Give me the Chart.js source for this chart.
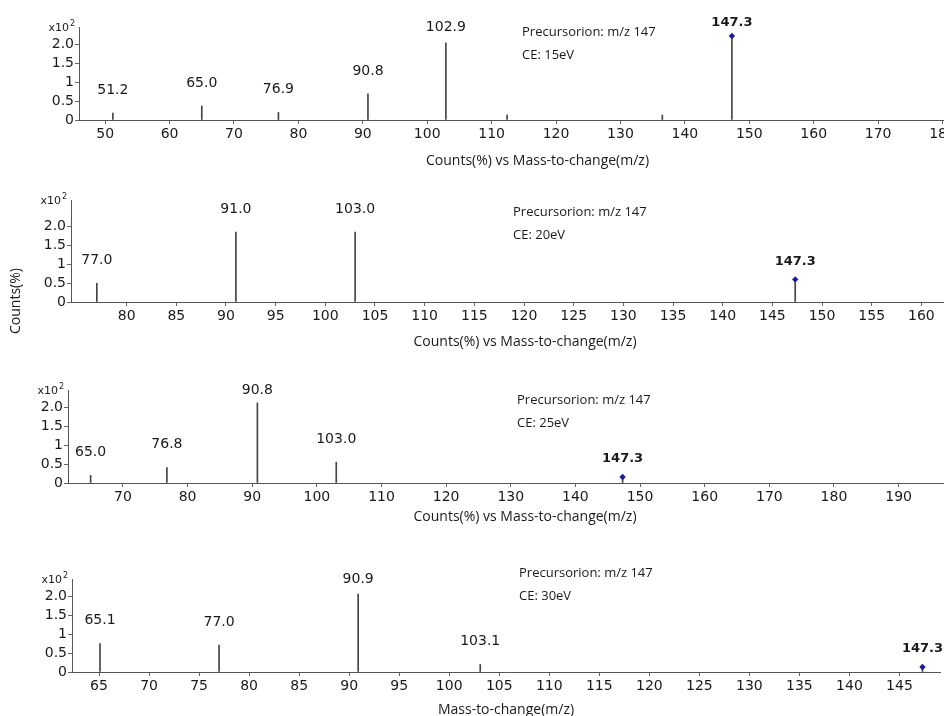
<!DOCTYPE html>
<html>
<head>
<meta charset="utf-8">
<script src="https://cdn.jsdelivr.net/npm/chart.js@4.4.1/dist/chart.umd.min.js"></script>
<style>
  html, body { margin: 0; padding: 0; background: #fff; overflow: hidden; }
  body { width: 944px; height: 716px; position: relative; }
  canvas { position: absolute; left: 0; }
</style>
</head>
<body>
<canvas id="ce15"></canvas>
<canvas id="ce20"></canvas>
<canvas id="ce25"></canvas>
<canvas id="ce30"></canvas>
<script>
// product ion peaks, intensity in x10^2 counts(%)
const ce15Mz = [51.2, 65.0, 76.9, 90.8, 102.9, 112.4, 136.5, 147.3]
const ce15Counts = [0.18, 0.37, 0.20, 0.69, 2.04, 0.13, 0.13, 2.22]
const ce15Labels = ['51.2', '65.0', '76.9', '90.8', '102.9', '', '', '147.3']

const ce20Mz = [77.0, 91.0, 103.0, 147.3]
const ce20Counts = [0.50, 1.86, 1.86, 0.60]
const ce20Labels = ['77.0', '91.0', '103.0', '147.3']

const ce25Mz = [65.0, 76.8, 90.8, 103.0, 147.3]
const ce25Counts = [0.20, 0.41, 2.12, 0.55, 0.16]
const ce25Labels = ['65.0', '76.8', '90.8', '103.0', '147.3']

const ce30Mz = [65.1, 77.0, 90.9, 103.1, 147.3]
const ce30Counts = [0.75, 0.71, 2.05, 0.20, 0.13]
const ce30Labels = ['65.1', '77.0', '90.9', '103.1', '147.3']

const precursorMz = 147.3

const ce15Ticks = [50, 60, 70, 80, 90, 100, 110, 120, 130, 140, 150, 160, 170, 180]
const ce20Ticks = [80, 85, 90, 95, 100, 105, 110, 115, 120, 125, 130, 135, 140, 145, 150, 155, 160]
const ce25Ticks = [70, 80, 90, 100, 110, 120, 130, 140, 150, 160, 170, 180, 190]
const ce30Ticks = [65, 70, 75, 80, 85, 90, 95, 100, 105, 110, 115, 120, 125, 130, 135, 140, 145]

const yTicks = [0, 0.5, 1, 1.5, 2]
const yTickLabels = ['0', '0.5', '1', '1.5', '2.0']

const xTitle = 'Counts(%) vs Mass-to-change(m/z)'

const panels = [
  { id: 'ce15', mz: ce15Mz, counts: ce15Counts, labels: ce15Labels, xTicks: ce15Ticks, ce: 'CE: 15eV', title: xTitle,
    top: 0, height: 172, width: 1000, left: 79, plotTop: 27, plotBottom: 120, xMin: 45.94, xMax: 188.3, yMax: 2.46,
    titleY: 161, infoX: 522, infoY: 32 },
  { id: 'ce20', mz: ce20Mz, counts: ce20Counts, labels: ce20Labels, xTicks: ce20Ticks, ce: 'CE: 20eV', title: xTitle,
    top: 172, height: 180, width: 983, left: 71, plotTop: 28, plotBottom: 130, xMin: 74.4, xMax: 165.8, yMax: 2.71,
    titleY: 170, infoX: 513, infoY: 40, yTitle: true },
  { id: 'ce25', mz: ce25Mz, counts: ce25Counts, labels: ce25Labels, xTicks: ce25Ticks, ce: 'CE: 25eV', title: xTitle,
    top: 352, height: 175, width: 986, left: 68, plotTop: 38, plotBottom: 131, xMin: 61.5, xMax: 202.9, yMax: 2.46,
    titleY: 165, infoX: 517, infoY: 48 },
  { id: 'ce30', mz: ce30Mz, counts: ce30Counts, labels: ce30Labels, xTicks: ce30Ticks, ce: 'CE: 30eV', title: 'Mass-to-change(m/z)',
    top: 527, height: 193, width: 944, left: 72, plotTop: 52, plotBottom: 145, xMin: 62.3, xMax: 149.05, yMax: 2.45,
    titleY: 183, infoX: 519, infoY: 46 }
]

const tickFont = { family: 'DejaVu Sans', size: 14 }
const titleFont = { family: 'Open Sans', size: 14 }

function overlay (p) {
  return {
    id: 'overlay',
    afterDatasetsDraw (chart) {
      const { ctx, chartArea, scales: { x, y } } = chart
      ctx.save()
      ctx.fillStyle = '#1a1a1a'
      ctx.textAlign = 'center'
      ctx.textBaseline = 'middle'
      p.mz.forEach((mz, i) => {
        const text = p.labels[i]
        if (!text) return
        const bold = mz === precursorMz
        ctx.font = bold ? 'bold 13px "DejaVu Sans"' : '14px "DejaVu Sans"'
        const top = y.getPixelForValue(p.counts[i])
        const ly = Math.max(top - (bold ? 18 : 23), chartArea.top - (bold ? 4 : 0))
        ctx.fillText(text, x.getPixelForValue(mz), ly)
      })

      ctx.textAlign = 'left'
      ctx.font = '13px "Open Sans"'
      ctx.fillText('Precursorion: m/z 147', p.infoX, p.infoY)
      ctx.fillText(p.ce, p.infoX, p.infoY + 23)

      // x10^2 multiplier above the y axis
      ctx.textAlign = 'right'
      ctx.font = '11px "DejaVu Sans"'
      ctx.fillText('x10', chartArea.left - 10, chartArea.top + 1)
      ctx.textAlign = 'left'
      ctx.font = '8px "DejaVu Sans"'
      ctx.fillText('2', chartArea.left - 9, chartArea.top - 3)

      if (p.yTitle) {
        ctx.translate(16, 129)
        ctx.rotate(-Math.PI / 2)
        ctx.textAlign = 'center'
        ctx.font = '14px "Open Sans"'
        ctx.fillText('Counts(%)', 0, 0)
      }
      ctx.restore()
    }
  }
}

function build (p) {
  const canvas = document.getElementById(p.id)
  canvas.width = p.width
  canvas.height = p.height
  canvas.style.top = p.top + 'px'
  canvas.style.width = p.width + 'px'
  canvas.style.height = p.height + 'px'

  const peaks = p.mz.map((mz, i) => ({ x: mz, y: p.counts[i] }))
  const precursor = peaks.filter((pt) => pt.x === precursorMz)

  return new Chart(canvas, {
    type: 'scatter',
    data: {
      datasets: [
        { type: 'scatter', data: precursor, pointStyle: 'rectRot', pointRadius: 3.2, backgroundColor: '#1b1b9e', borderColor: '#1b1b9e', borderWidth: 0 },
        { type: 'bar', data: peaks, barThickness: 1, backgroundColor: '#444', borderWidth: 0 }
      ]
    },
    options: {
      responsive: false,
      animation: false,
      devicePixelRatio: 1,
      layout: { padding: { top: p.plotTop, left: 0, right: 0, bottom: 0 } },
      plugins: { legend: { display: false }, tooltip: { enabled: false } },
      scales: {
        x: {
          type: 'linear',
          min: p.xMin,
          max: p.xMax,
          offset: false,
          grid: { display: true, offset: false, drawOnChartArea: false, tickLength: 4, color: '#666' },
          border: { display: true, color: '#555' },
          ticks: { font: tickFont, color: '#1a1a1a', padding: 2, maxRotation: 0, autoSkip: false, includeBounds: false, callback: (v) => String(v) },
          afterBuildTicks: (s) => { s.ticks = p.xTicks.map((v) => ({ value: v })) },
          afterFit: (s) => { s.height = p.height - p.plotBottom },
          title: { display: true, text: p.title, font: titleFont, color: '#1a1a1a', padding: { top: 0, bottom: p.height - p.titleY - 8.4 } }
        },
        y: {
          min: 0,
          max: p.yMax,
          grid: { display: true, drawOnChartArea: false, tickLength: 4, color: '#666' },
          border: { display: true, color: '#555' },
          ticks: { font: tickFont, color: '#1a1a1a', padding: 1, includeBounds: false, callback: (v) => yTickLabels[yTicks.indexOf(v)] },
          afterBuildTicks: (s) => { s.ticks = yTicks.map((v) => ({ value: v })) },
          afterFit: (s) => { s.width = p.left }
        }
      }
    },
    plugins: [overlay(p)]
  })
}

panels.forEach(build)
</script>
</body>
</html>
